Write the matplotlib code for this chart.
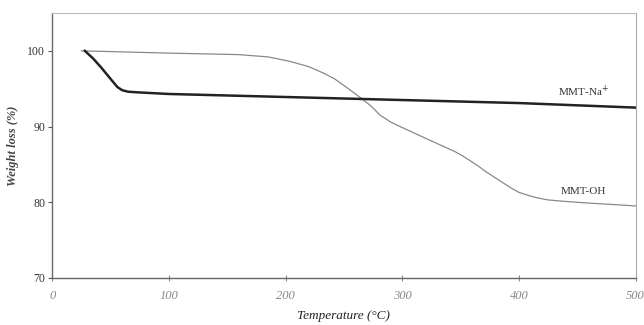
import matplotlib
matplotlib.use("Agg")
import matplotlib.pyplot as plt

na_temp = [28, 35, 42, 50, 56, 60, 65, 75, 100, 150, 200, 250, 300, 350, 400, 450, 500]
na_wt = [100.0, 99.0, 97.8, 96.3, 95.2, 94.8, 94.6, 94.5, 94.3, 94.1, 93.9, 93.7, 93.5, 93.3, 93.1, 92.8, 92.5]

oh_temp = [25, 50, 100, 160, 185, 204, 220, 232, 242, 252, 260, 266, 274, 281, 290, 298, 315, 332,
           345, 352, 358, 365, 372, 380, 386, 393, 400, 408, 415, 425, 440, 458, 480, 500]
oh_wt = [100.0, 99.9, 99.7, 99.5, 99.2, 98.6, 97.9, 97.1, 96.3, 95.2, 94.3, 93.6, 92.6, 91.5, 90.6, 90.0, 88.8, 87.6,
         86.7, 86.1, 85.5, 84.8, 84.0, 83.2, 82.6, 81.9, 81.3, 80.9, 80.6, 80.3, 80.1, 79.9, 79.7, 79.5]

xticks = [0, 100, 200, 300, 400, 500]
yticks = [70, 80, 90, 100]

serif = ["Liberation Serif", "DejaVu Serif"]
plt.rcParams["font.family"] = serif

fig = plt.figure(figsize=(6.44, 3.25), dpi=100)
ax = fig.add_axes([0.081, 0.145, 0.906, 0.815])

ax.plot(oh_temp, oh_wt, color="#888888", lw=0.9)
ax.plot(na_temp, na_wt, color="#222222", lw=1.8)

ax.set_xlim(0, 500)
ax.set_ylim(70, 105)
ax.set_xticks(xticks)
ax.set_yticks(yticks)
ax.set_xticklabels([str(t) for t in xticks], fontstyle="italic", color="#888888", fontsize=9)
ax.set_yticklabels([str(t) for t in yticks], color="#333333", fontsize=8.5)
ax.tick_params(axis="x", direction="inout", length=5, color="#888888", pad=6)
ax.tick_params(axis="y", direction="out", length=3, color="#555555", pad=2)

for s in ["left", "bottom"]:
    ax.spines[s].set_color("#666666")
    ax.spines[s].set_linewidth(1.0)
ax.spines["top"].set_color("#bbbbbb")
ax.spines["top"].set_linewidth(0.8)
ax.spines["right"].set_color("#aaaaaa")
ax.spines["right"].set_linewidth(0.8)
ax.spines["right"].set_linestyle((0, (1, 1)))

ax.set_xlabel("Temperature (°C)", fontstyle="italic", fontsize=9.5, color="#222222", labelpad=6)
ax.set_ylabel("Weight loss (%)", fontstyle="italic", fontweight="bold", fontsize=9, color="#444444", labelpad=6)

ax.text(455, 94.7, "MMT-Na$^{+}$", fontsize=8, color="#333333", ha="center", va="center")
ax.text(455, 81.4, "MMT-OH", fontsize=8, color="#333333", ha="center", va="center")

fig.savefig("out.png", dpi=100, facecolor="white")
